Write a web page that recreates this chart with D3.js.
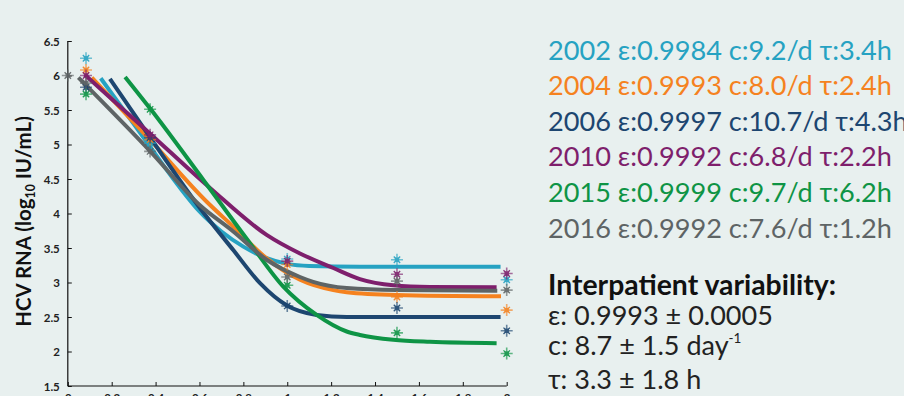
<!DOCTYPE html>
<html>
<head>
<meta charset="utf-8">
<script src="https://cdn.jsdelivr.net/npm/d3@7"></script>
<style>
  html, body { margin: 0; padding: 0; background: #e8f0ef; overflow: hidden; }
  svg { display: block; }
  text { font-family: Lato, "Noto Sans", sans-serif; }
</style>
</head>
<body>
<svg id="chart" width="904" height="396"></svg>
<script>
// ---- data -------------------------------------------------------------
const years = ["2002", "2004", "2006", "2010", "2015", "2016"];
const epsilon = ["0.9984", "0.9993", "0.9997", "0.9992", "0.9999", "0.9992"];
const clearance = ["9.2", "8.0", "10.7", "6.8", "9.7", "7.6"];
const delayHours = ["3.4", "2.4", "4.3", "2.2", "6.2", "1.2"];

// sampling times (days) and measured log10 viral load per patient
const sampleDays = [0.083, 0.375, 1, 1.5, 2];
const obs2002 = [6.25, 5.02, 3.34, 3.33, 3.04];
const obs2004 = [6.08, 5.07, 3.26, 2.79, 2.60];
const obs2006 = [5.83, 5.10, 2.66, 2.63, 2.30];
const obs2010 = [6.00, 5.14, 3.31, 3.12, 3.13];
const obs2015 = [5.73, 5.51, 2.96, 2.27, 1.97];
const obs2016 = [5.89, 4.90, 3.08, 3.02, 2.89];
const baseline2016 = [0, 6.0];

// fitted model curves: [day, log10 IU/mL]
const fit2002 = [[0.150, 5.96], [0.35, 5.08], [0.50, 4.42], [0.60, 4.03], [0.70, 3.74], [0.80, 3.52], [0.90, 3.36], [1.0, 3.27], [1.1, 3.24], [1.331, 3.23], [1.972, 3.23]];
const fit2004 = [[0.109, 5.97], [0.374, 5.07], [0.633, 4.17], [0.754, 3.81], [0.906, 3.35], [1.058, 3.04], [1.210, 2.89], [1.271, 2.86], [1.498, 2.82], [1.974, 2.80]];
const fit2006 = [[0.192, 5.95], [0.382, 5.07], [0.602, 4.08], [0.754, 3.47], [0.876, 2.99], [0.997, 2.67], [1.134, 2.53], [1.271, 2.50], [1.972, 2.50]];
const fit2010 = [[0.078, 6.01], [0.374, 5.16], [0.648, 4.37], [0.906, 3.69], [1.058, 3.42], [1.210, 3.21], [1.331, 3.05], [1.483, 2.96], [1.650, 2.935], [1.954, 2.93]];
const fit2015 = [[0.261, 5.98], [0.378, 5.51], [0.617, 4.49], [0.830, 3.57], [0.982, 2.94], [1.134, 2.53], [1.271, 2.29], [1.331, 2.24], [1.483, 2.17], [1.650, 2.14], [1.954, 2.12]];
const fit2016 = [[0.048, 5.97], [0.379, 4.89], [0.602, 4.12], [0.754, 3.74], [0.906, 3.33], [1.058, 3.08], [1.118, 3.01], [1.271, 2.92], [1.498, 2.89], [1.957, 2.88]];

const xTicks = [0, 0.2, 0.4, 0.6, 0.8, 1, 1.2, 1.4, 1.6, 1.8, 2];
const yTicks = [1.5, 2, 2.5, 3, 3.5, 4, 4.5, 5, 5.5, 6, 6.5];

const summaryTitle = "Interpatient variability:";
const summaryEps = "ε: 0.9993 ± 0.0005";
const summaryC = "c: 8.7 ± 1.5 day";
const summaryTau = "τ: 3.3 ± 1.8 h";

// ---- styles -----------------------------------------------------------
const palette = ["#26a2c2", "#f5821f", "#1d4670", "#7e1f6c", "#0e9445", "#5e6465"];
const fits = [fit2002, fit2004, fit2006, fit2010, fit2015, fit2016];
const observations = [obs2002, obs2004, obs2006, obs2010, obs2015, obs2016];

const svg = d3.select("#chart");
const x = d3.scaleLinear().domain([0, 2]).range([67.8, 506.7]);
const y = d3.scaleLinear().domain([1.5, 6.5]).range([386, 41]);

// axes
const yAxis = svg.append("g")
  .attr("transform", `translate(${x(0)},0)`)
  .call(d3.axisRight(y).tickValues(yTicks).tickSize(4).tickFormat(d3.format("")));
yAxis.select(".domain").attr("stroke", "#111").attr("stroke-width", 1.2).attr("d", `M0,${y(6.5)}H0V${y(1.5)}`);
yAxis.selectAll(".tick line").attr("stroke", "#111").attr("stroke-width", 1);
yAxis.selectAll(".tick text")
  .attr("x", -8).attr("text-anchor", "end").attr("dy", "0.35em")
  .attr("font-size", 11.5).attr("font-weight", 700).attr("fill", "#222")
  .style("font-family", "Lato, sans-serif");

const xAxis = svg.append("g")
  .attr("transform", `translate(0,${y(1.5)})`)
  .call(d3.axisTop(x).tickValues(xTicks).tickSize(4).tickFormat(d3.format("")));
xAxis.select(".domain").attr("stroke", "#111").attr("stroke-width", 1.2).attr("d", `M${x(0)},0H${x(2)}`);
xAxis.selectAll(".tick line").attr("stroke", "#111").attr("stroke-width", 1);
xAxis.selectAll(".tick text")
  .attr("y", 16).attr("dy", 0)
  .attr("font-size", 11.5).attr("font-weight", 700).attr("fill", "#222")
  .style("font-family", "Lato, sans-serif");

// y axis title
const yTitle = svg.append("text")
  .attr("transform", "translate(31,221.5) rotate(-90)")
  .attr("text-anchor", "middle")
  .attr("font-weight", 700).attr("font-size", 18).attr("fill", "#111");
yTitle.append("tspan").text("HCV RNA (log");
yTitle.append("tspan").attr("font-size", 11).attr("dy", 4).text("10");
yTitle.append("tspan").attr("dy", -4).text(" IU/mL)");
{
  const w = yTitle.node().getComputedTextLength();
  const f = 18 * 211 / w;
  yTitle.attr("font-size", f);
  yTitle.select("tspan:nth-child(2)").attr("font-size", f * 0.6);
}

// fitted curves
const line = d3.line().x(d => x(d[0])).y(d => y(d[1])).curve(d3.curveMonotoneX);
svg.append("g").selectAll("path").data(fits).join("path")
  .attr("d", line)
  .attr("fill", "none")
  .attr("stroke", (d, i) => palette[i])
  .attr("stroke-width", 4)
  .attr("stroke-linecap", "butt");

// measured points as asterisks
function star(g, cx, cy, color) {
  const s = g.append("g").attr("transform", `translate(${cx},${cy})`).attr("opacity", 0.9);
  s.append("path").attr("d", "M-6,0H6M0,-6V6").attr("stroke", color).attr("stroke-width", 1.6).attr("stroke-opacity", 0.7);
  s.append("path").attr("d", "M-3.2,-3.2L3.2,3.2M-3.2,3.2L3.2,-3.2").attr("stroke", color).attr("stroke-width", 1.3);
  s.append("rect").attr("x", -2.2).attr("y", -2.2).attr("width", 4.4).attr("height", 4.4).attr("fill", color);
}
const pts = svg.append("g");
observations.forEach((vals, i) => {
  vals.forEach((v, j) => star(pts, x(sampleDays[j]), y(v), palette[i]));
});
star(pts, x(baseline2016[0]), y(baseline2016[1]), palette[5]);

// legend with fitted parameters
const legend = svg.append("g");
const legendRows = years.map((yr, i) => `${yr} ε:${epsilon[i]} c:${clearance[i]}/d τ:${delayHours[i]}h`);
const rows = legend.selectAll("text").data(legendRows).join("text")
  .attr("x", 548)
  .attr("y", (d, i) => 59.5 + i * 35.6)
  .attr("fill", (d, i) => palette[i])
  .attr("font-size", 26)
  .text(d => d);
{
  const w = rows.node().getComputedTextLength();
  rows.attr("font-size", 26 * 344 / w);
}

// summary block
const title = svg.append("text").attr("x", 548).attr("y", 295)
  .attr("font-weight", 700).attr("font-size", 26).attr("fill", "#111").text(summaryTitle);
{
  const w = title.node().getComputedTextLength();
  title.attr("font-size", 26 * 288 / w);
}
const sEps = svg.append("text").attr("x", 548).attr("y", 325).attr("font-size", 26).attr("fill", "#222").text(summaryEps);
const fs = 26 * 225 / sEps.node().getComputedTextLength();
sEps.attr("font-size", fs);
const sC = svg.append("text").attr("x", 548).attr("y", 354.5).attr("font-size", fs).attr("fill", "#222");
sC.append("tspan").text(summaryC);
sC.append("tspan").attr("font-size", fs * 0.5).attr("dy", -fs * 0.42).text("-1");
svg.append("text").attr("x", 548).attr("y", 388.5).attr("font-size", fs).attr("fill", "#222").text(summaryTau);
</script>
</body>
</html>
